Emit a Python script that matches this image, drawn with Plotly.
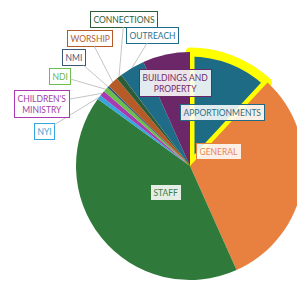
import math
import plotly.graph_objects as go

# ---- data ----
categories = ["APPORTIONMENTS", "GENERAL", "STAFF", "NYI", "CHILDREN'S MINISTRY",
              "NDI", "NMI", "WORSHIP", "CONNECTIONS", "OUTREACH", "BUILDINGS AND PROPERTY"]
values = [11.9, 31.4, 41.7, 0.6, 0.8, 0.7, 0.3, 1.5, 0.8, 3.6, 6.7]
label_text = ["APPORTIONMENTS", "GENERAL", "STAFF", "NYI", "CHILDREN'S<br>MINISTRY",
              "NDI", "NMI", "WORSHIP", "CONNECTIONS", "OUTREACH", "BUILDINGS AND<br>PROPERTY"]

# ---- style ----
colors = ["#1e6b86", "#e8803f", "#2f7a3b", "#37a6dc", "#a93ab0", "#6bbf4c",
          "#3a5877", "#b65a27", "#2d5c36", "#1f6c89", "#6c2768"]
text_colors = ["#2a6f88", "#e8855c", "#3f7d48", "#3aa3d6", "#a03ea8", "#6ab54e",
               "#43607e", "#b45e30", "#2f5e37", "#2b7390", "#6e2d6a"]
line_widths = [9, 0, 0, 0, 0, 0, 0, 0, 0, 0, 0]
line_colors = ["#ffff00"] + colors[1:]
outside = [False, False, False, True, True, True, True, True, True, True, False]
# label box centres in pixels (layout)
label_px = [(222, 104), (242, 151), (166, 192), (44, 131), (42, 104), (60, 76),
            (74, 57), (90, 38), (124, 19), (152, 35), (175, 69)]

W, H = 304, 281
ML, MT, MR, MB = 76, 52, 0, 1
PW, PH = W - ML - MR, H - MT - MB
R = min(PW, PH) / 2
CX, CY = ML + PW / 2, MT + PH / 2

def to_paper(px, py):
    return (px - ML) / PW, 1 - (py - MT) / PH

fig = go.Figure(go.Pie(
    labels=categories, values=values, sort=False, direction="clockwise",
    rotation=0, textinfo="none", hoverinfo="label+percent",
    marker=dict(colors=colors, line=dict(color=line_colors, width=line_widths)),
    domain=dict(x=[0, 1], y=[0, 1]), showlegend=False,
))

total = sum(values)
cum = 0.0
annotations = []
for i, v in enumerate(values):
    mid = (cum + v / 2) / total * 2 * math.pi
    cum += v
    lx, ly = label_px[i]
    common = dict(text=label_text[i], font=dict(family="Lato", size=8.5, color=text_colors[i]),
                  bgcolor="rgba(255,255,255,0.87)", bordercolor=colors[i], borderwidth=1,
                  borderpad=2.5, xref="paper", yref="paper", align="center")
    if outside[i]:
        hx = CX + R * math.sin(mid)
        hy = CY - R * math.cos(mid)
        x, y = to_paper(hx, hy)
        annotations.append(dict(x=x, y=y, ax=lx - hx, ay=ly - hy, showarrow=True,
                                arrowhead=0, arrowwidth=0.8, arrowcolor="#b5b5b5",
                                standoff=0, **common))
    else:
        x, y = to_paper(lx, ly)
        annotations.append(dict(x=x, y=y, showarrow=False, **common))

fig.update_layout(
    width=W, height=H, margin=dict(l=ML, r=MR, t=MT, b=MB, pad=0),
    paper_bgcolor="white", plot_bgcolor="white", template="none",
    annotations=annotations,
)

fig.write_html("out.html", config={"displayModeBar": False},
               post_script="document.body.style.margin='0';document.body.style.overflow='hidden';")
